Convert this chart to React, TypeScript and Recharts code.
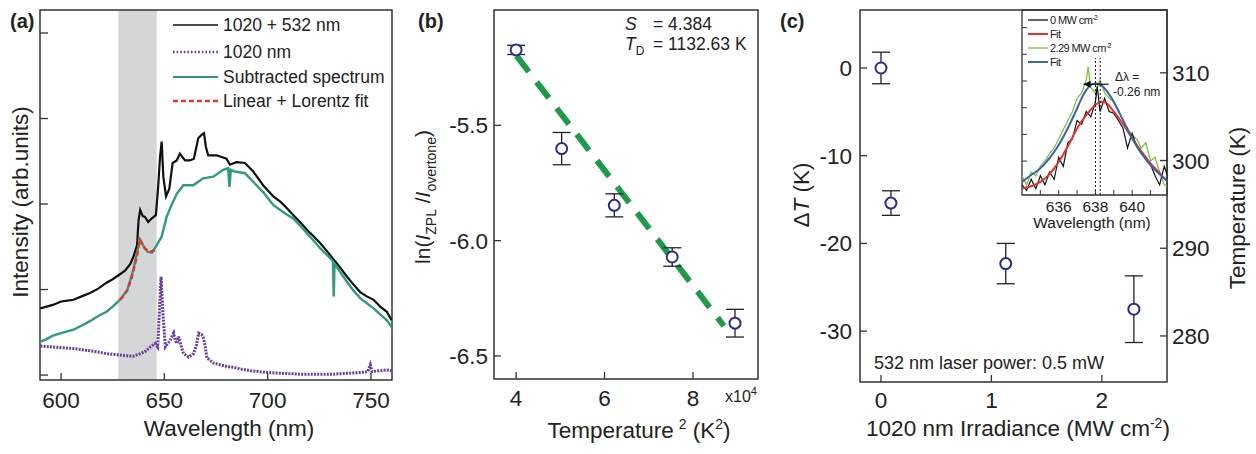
import {
    LineChart,
    ComposedChart,
    Line,
    Scatter,
    XAxis,
    YAxis,
    ReferenceArea,
    ErrorBar,
} from "recharts"

// ---- panel (a): PL spectra ----
const A_BLACK_WL = [590, 593, 596, 600, 603, 606, 610, 614, 618, 622, 625, 628, 631, 633.5, 635, 636.8, 637.5, 638.3, 639.5, 640.6, 642.2, 643.8, 645.9, 647.0, 647.9, 648.7, 649.5, 650.8, 652.4, 654.0, 656.0, 657.5, 660.0, 662.4, 664.3, 666.4, 668.0, 669.2, 670.1, 671.2, 675.3, 680.1, 681.7, 684.9, 689.0, 693.0, 697.8, 702.7, 706, 709, 712.5, 716, 719, 722, 725.5, 729, 732, 735, 738.4, 741.5, 744.8, 748, 751.3, 754.5, 757.7, 760]
const A_BLACK_I = [0.78, 0.80, 0.82, 0.86, 0.87, 0.88, 0.92, 0.96, 1.01, 1.08, 1.12, 1.17, 1.22, 1.30, 1.38, 1.52, 1.81, 1.93, 1.86, 1.85, 1.79, 1.83, 1.87, 2.20, 2.55, 2.73, 2.32, 2.09, 2.18, 2.48, 2.51, 2.59, 2.51, 2.51, 2.53, 2.77, 2.81, 2.83, 2.67, 2.57, 2.57, 2.53, 2.46, 2.49, 2.48, 2.38, 2.22, 2.09, 2.03, 1.96, 1.87, 1.78, 1.70, 1.63, 1.54, 1.44, 1.35, 1.26, 1.15, 1.06, 0.97, 0.92, 0.88, 0.80, 0.74, 0.64]

const A_TEAL_WL = [590, 593, 596, 600, 603, 606, 610, 614, 618, 622, 625, 628.5, 632, 635, 637, 638.3, 640, 642, 644, 646.3, 648.7, 651.1, 653.5, 656.0, 659.2, 664.0, 668.8, 673.7, 678.5, 680.9, 681.5, 682.2, 684.1, 689.0, 693.0, 697.8, 702.7, 706.1, 709, 712.5, 716, 719, 722, 725.5, 729, 731.6, 732.0, 732.4, 735, 738.4, 741.5, 744.8, 748, 751.3, 754.5, 757.7, 760]
const A_TEAL_I = [0.39, 0.42, 0.46, 0.49, 0.51, 0.53, 0.58, 0.63, 0.69, 0.74, 0.80, 0.88, 0.99, 1.23, 1.46, 1.58, 1.50, 1.44, 1.43, 1.52, 1.62, 1.85, 1.99, 2.12, 2.22, 2.22, 2.30, 2.32, 2.40, 2.42, 2.20, 2.40, 2.38, 2.36, 2.26, 2.14, 1.99, 1.93, 1.88, 1.83, 1.74, 1.66, 1.58, 1.48, 1.40, 1.33, 0.92, 1.30, 1.21, 1.09, 0.99, 0.90, 0.84, 0.78, 0.71, 0.64, 0.56]

const A_FIT_WL = [628.5, 630, 632, 634, 635.5, 636.6, 637.5, 638.2, 639, 640.6, 643.0, 645.4, 646.3]
const A_FIT_I = [0.88, 0.92, 0.99, 1.12, 1.27, 1.38, 1.50, 1.58, 1.55, 1.48, 1.44, 1.46, 1.47]

const A_PURPLE_WL = [590, 595, 600, 606, 612, 618, 622, 626, 630, 635, 638.4, 641, 643.2, 645.6, 646.8, 647.5, 648.4, 649.3, 650.5, 652.0, 652.9, 654.5, 655.3, 656.1, 656.9, 658.0, 659.3, 661.7, 664.2, 665.5, 666.6, 668.2, 669.0, 670.0, 670.6, 673.8, 677, 680.3, 683.5, 686.8, 692, 699.7, 707, 715.8, 724, 731.9, 738, 744.8, 748.5, 749.7, 750.5, 754, 757.7, 760]
const A_PURPLE_I = [0.34, 0.33, 0.32, 0.31, 0.29, 0.27, 0.25, 0.24, 0.23, 0.22, 0.25, 0.28, 0.33, 0.37, 0.33, 0.70, 1.15, 0.72, 0.33, 0.38, 0.41, 0.49, 0.40, 0.37, 0.45, 0.35, 0.25, 0.21, 0.25, 0.35, 0.49, 0.47, 0.43, 0.30, 0.20, 0.14, 0.12, 0.10, 0.09, 0.07, 0.05, 0.03, 0.02, 0.01, 0.01, 0.01, 0.02, 0.03, 0.04, 0.12, 0.04, 0.05, 0.06, 0.05]

const A_BAND = [627.7, 646.3]

// ---- panel (b): ln ratio vs T^2 ----
const B_T2 = [4.0, 5.03, 6.22, 7.53, 8.95]
const B_LN = [-5.173, -5.601, -5.847, -6.071, -6.358]
const B_ERR = [0.02, 0.07, 0.05, 0.04, 0.06]
const B_FIT_T2 = [4.01, 8.7]
const B_FIT_LN = [-5.199, -6.37]

// ---- panel (c): temperature change vs irradiance ----
const C_IRR = [0, 0.09, 1.13, 2.29]
const C_DT = [0, -15.4, -22.3, -27.5]
const C_ERR = [1.8, 1.4, 2.3, 3.8]

// ---- inset of (c): ZPL spectra ----
const IN_BLACK_WL = [634, 634.25, 634.5, 634.75, 635, 635.25, 635.5, 635.75, 636, 636.25, 636.5, 636.75, 637, 637.25, 637.5, 637.75, 638, 638.1, 638.25, 638.5, 638.75, 639, 639.25, 639.5, 639.75, 640, 640.25, 640.5, 640.75, 641, 641.25, 641.5, 641.75, 642]
const IN_BLACK = [0.11, -0.10, 0.32, -0.03, 0.45, 0.11, 0.59, 0.32, 1.14, 0.80, 1.69, 1.83, 2.52, 2.38, 2.86, 2.66, 3.21, 3.8, 2.86, 3.35, 2.86, 2.79, 2.52, 2.24, 1.49, 2.04, 1.56, 1.28, 1.14, 0.87, 0.45, 0.11, 0.80, 0.32]
const IN_RED_WL = [634, 634.5, 635, 635.5, 636, 636.5, 637, 637.5, 638, 638.3, 638.6, 639, 639.5, 640, 640.5, 641, 641.5, 642]
const IN_RED = [-0.02, 0.06, 0.22, 0.51, 0.97, 1.56, 2.22, 2.72, 3.10, 3.22, 3.17, 2.85, 2.39, 1.85, 1.37, 0.91, 0.55, 0.16]
const IN_GREEN_WL = [634, 634.25, 634.5, 634.75, 635, 635.25, 635.5, 635.75, 636, 636.25, 636.5, 636.75, 637, 637.25, 637.5, 637.6, 637.75, 638, 638.25, 638.5, 638.75, 639, 639.25, 639.5, 639.75, 640, 640.25, 640.5, 640.75, 641, 641.25, 641.5, 641.75, 642]
const IN_GREEN = [0.45, 0.11, 0.59, 0.45, 0.80, 1.00, 1.28, 1.49, 1.83, 2.18, 2.52, 2.86, 3.35, 3.55, 4.04, 4.52, 3.76, 3.55, 4.04, 3.55, 3.35, 3.21, 2.86, 2.52, 2.24, 1.97, 1.83, 1.49, 1.69, 1.00, 1.14, 0.59, 0.11, 0.04]
const IN_BLUE_WL = [634, 634.5, 635, 635.5, 636, 636.5, 637, 637.25, 637.5, 637.75, 638, 638.25, 638.5, 638.75, 639, 639.5, 640, 640.5, 641, 641.5, 642]
const IN_BLUE = [0.22, 0.48, 0.73, 1.11, 1.60, 2.24, 2.97, 3.36, 3.66, 3.85, 3.91, 3.88, 3.72, 3.50, 3.22, 2.54, 1.85, 1.30, 0.85, 0.51, 0.22]
const IN_PEAKS = [638.0, 638.26]
const IN_ARROW_WL = [638.72, 637.35]
const IN_ARROW_Y = 3.88

const FONT = '"Liberation Sans", Arial, Helvetica, sans-serif'
const INK = "#222"
const FRAME = "#333"
const NAVY = "#2a2d8f"

const zip = (xs: number[], ys: number[]) => xs.map((x, i) => ({ x, y: ys[i] }))
const zipErr = (xs: number[], ys: number[], es: number[]) =>
    xs.map((x, i) => ({ x, y: ys[i], e: es[i] }))

const tickStyle = (size: number) => ({ fill: INK, fontSize: size, fontFamily: FONT })
const noLabel = () => ""

function OpenCircle(props: any) {
    const { cx, cy } = props
    if (cx == null || cy == null) return <g />
    return <circle cx={cx} cy={cy} r={5.5} fill="#fff" stroke={NAVY} strokeWidth={2} />
}

function PanelA() {
    const xd: [number, number] = [589.8, 760.2]
    const yd: [number, number] = [-0.058, 4.269]
    return (
        <div style={{ position: "absolute", left: 0, top: 0 }}>
            <LineChart width={400} height={454} margin={{ top: 10, right: 8, bottom: 0, left: 0 }}>
                <XAxis dataKey="x" type="number" domain={xd} allowDataOverflow ticks={[600, 650, 700, 750]}
                    height={74} axisLine={false} tickSize={-7} tickMargin={19}
                    tickLine={{ stroke: FRAME, strokeWidth: 1.3 }} tick={tickStyle(22.5)} />
                <YAxis type="number" domain={yd} allowDataOverflow ticks={[0, 1, 2, 3, 4]} width={40}
                    axisLine={false} tickSize={-8} tickFormatter={noLabel}
                    tickLine={{ stroke: FRAME, strokeWidth: 1.3 }} />
                <ReferenceArea x1={A_BAND[0]} x2={A_BAND[1]} y1={yd[0]} y2={yd[1]}
                    fill="#d5d6d8" fillOpacity={1} stroke="none" />
                <Line data={zip(A_PURPLE_WL, A_PURPLE_I)} dataKey="y" type="linear" stroke="#6a3d9e"
                    strokeWidth={3} strokeDasharray="2 1.2" dot={false} isAnimationActive={false} />
                <Line data={zip(A_BLACK_WL, A_BLACK_I)} dataKey="y" type="linear" stroke="#111"
                    strokeWidth={2.2} dot={false} isAnimationActive={false} />
                <Line data={zip(A_TEAL_WL, A_TEAL_I)} dataKey="y" type="linear" stroke="#2e9b80"
                    strokeWidth={2.4} dot={false} isAnimationActive={false} />
                <Line data={zip(A_FIT_WL, A_FIT_I)} dataKey="y" type="linear" stroke="#e2382e"
                    strokeWidth={2.6} strokeDasharray="5 3" dot={false} isAnimationActive={false} />
                <ReferenceArea x1={xd[0]} x2={xd[1]} y1={yd[0]} y2={yd[1]} fill="none"
                    stroke={FRAME} strokeWidth={1.5} />
                <g fontFamily={FONT} fill={INK}>
                    <text x={10} y={28} fontSize={20} fontWeight="bold">(a)</text>
                    <g fontSize={17.5}>
                        <line x1={173} x2={218} y1={25} y2={25} stroke="#111" strokeWidth={1.6} />
                        <text x={223} y={31}>1020 + 532 nm</text>
                        <line x1={173} x2={218} y1={52} y2={52} stroke="#6a3d9e" strokeWidth={2.4} strokeDasharray="1.6 2" />
                        <text x={223} y={58}>1020 nm</text>
                        <line x1={173} x2={218} y1={77} y2={77} stroke="#2e9b80" strokeWidth={1.8} />
                        <text x={223} y={83}>Subtracted spectrum</text>
                        <line x1={173} x2={218} y1={101} y2={101} stroke="#e2382e" strokeWidth={2.4} strokeDasharray="5 3" />
                        <text x={223} y={107}>Linear + Lorentz fit</text>
                    </g>
                    <text x={229} y={436} fontSize={22.5} textAnchor="middle">Wavelength (nm)</text>
                    <text x={28} y={202} fontSize={22.5} textAnchor="middle" transform="rotate(-90 28 202)">
                        Intensity (arb.units)
                    </text>
                </g>
            </LineChart>
        </div>
    )
}

function PanelB() {
    const xd: [number, number] = [3.5, 9.47]
    const yd: [number, number] = [-6.6, -5.0]
    return (
        <div style={{ position: "absolute", left: 400, top: 0 }}>
            <ComposedChart width={370} height={454} margin={{ top: 10, right: 12, bottom: 0, left: 0 }}>
                <XAxis dataKey="x" type="number" domain={xd} allowDataOverflow ticks={[4, 6, 8]}
                    height={75} axisLine={false} tickSize={-7} tickMargin={18}
                    tickLine={{ stroke: FRAME, strokeWidth: 1.3 }} tick={tickStyle(22.5)} />
                <YAxis type="number" domain={yd} allowDataOverflow ticks={[-5.5, -6, -6.5]} width={94}
                    axisLine={false} tickSize={-7} tickMargin={13} tickFormatter={(v: number) => v.toFixed(1)}
                    tickLine={{ stroke: FRAME, strokeWidth: 1.3 }} tick={tickStyle(22.5)} />
                <Line data={zip(B_FIT_T2, B_FIT_LN)} dataKey="y" type="linear" stroke="#1e9a48"
                    strokeWidth={6} strokeDasharray="20 13" dot={false} isAnimationActive={false} />
                <Scatter data={zipErr(B_T2, B_LN, B_ERR)} dataKey="y" shape={<OpenCircle />}
                    isAnimationActive={false}>
                    <ErrorBar dataKey="e" direction="y" width={9} stroke="#222" strokeWidth={1.3} />
                </Scatter>
                <ReferenceArea x1={xd[0]} x2={xd[1]} y1={yd[0]} y2={yd[1]} fill="none"
                    stroke={FRAME} strokeWidth={1.5} />
                <g fontFamily={FONT} fill={INK}>
                    <text x={18} y={28} fontSize={20} fontWeight="bold">(b)</text>
                    <g fontSize={17.5}>
                        <text x={225} y={30} fontStyle="italic">S</text>
                        <text x={253} y={30}>= 4.384</text>
                        <text x={225} y={50}><tspan fontStyle="italic">T</tspan><tspan dy={5} fontSize={12}>D</tspan></text>
                        <text x={253} y={50}>= 1132.63 K</text>
                    </g>
                    <text x={325} y={402} fontSize={16}>x10<tspan dy={-7} fontSize={11}>4</tspan></text>
                    <text x={239} y={438} fontSize={22.5} textAnchor="middle">
                        Temperature<tspan dx={5} dy={-9} fontSize={14}>2</tspan>
                        <tspan dy={9}> (K</tspan><tspan dy={-9} fontSize={14}>2</tspan><tspan dy={9}>)</tspan>
                    </text>
                    <text x={30} y={197} fontSize={21} textAnchor="middle" transform="rotate(-90 30 197)">
                        ln(<tspan fontStyle="italic">I</tspan><tspan dy={6} fontSize={14}>ZPL</tspan>
                        <tspan dy={-6}> /</tspan><tspan fontStyle="italic">I</tspan>
                        <tspan dy={6} fontSize={14}>overtone</tspan><tspan dy={-6}>)</tspan>
                    </text>
                </g>
            </ComposedChart>
        </div>
    )
}

function PanelC() {
    const xd: [number, number] = [-0.19, 2.59]
    const yl: [number, number] = [-35.8, 6.61]
    const yr: [number, number] = [274.75, 317.16]
    return (
        <div style={{ position: "absolute", left: 770, top: 0 }}>
            <ComposedChart width={486} height={454} margin={{ top: 10, right: 0, bottom: 0, left: 0 }}>
                <XAxis dataKey="x" type="number" domain={xd} allowDataOverflow ticks={[0, 1, 2]}
                    height={72} axisLine={false} tickSize={-7} tickMargin={17}
                    tickLine={{ stroke: FRAME, strokeWidth: 1.3 }} tick={tickStyle(22.5)} />
                <YAxis yAxisId="l" type="number" domain={yl} allowDataOverflow ticks={[0, -10, -20, -30]}
                    width={90} axisLine={false} tickSize={-7} tickMargin={15}
                    tickLine={{ stroke: FRAME, strokeWidth: 1.3 }} tick={tickStyle(22.5)} />
                <YAxis yAxisId="r" orientation="right" type="number" domain={yr} allowDataOverflow
                    ticks={[280, 290, 300, 310]} width={89} axisLine={false} tickSize={-7} tickMargin={12}
                    tickLine={{ stroke: FRAME, strokeWidth: 1.3 }} tick={tickStyle(22.5)} />
                <Scatter yAxisId="l" data={zipErr(C_IRR, C_DT, C_ERR)} dataKey="y" shape={<OpenCircle />}
                    isAnimationActive={false}>
                    <ErrorBar dataKey="e" direction="y" width={9} stroke="#222" strokeWidth={1.3} />
                </Scatter>
                <ReferenceArea yAxisId="l" x1={xd[0]} x2={xd[1]} y1={yl[0]} y2={yl[1]} fill="none"
                    stroke={FRAME} strokeWidth={1.5} />
                <g fontFamily={FONT} fill={INK}>
                    <text x={10} y={28} fontSize={20} fontWeight="bold">(c)</text>
                    <text x={104} y={369} fontSize={18}>532 nm laser power: 0.5 mW</text>
                    <text x={248} y={436} fontSize={22.5} textAnchor="middle">
                        1020 nm Irradiance (MW cm<tspan dy={-8} fontSize={14}>-2</tspan><tspan dy={8}>)</tspan>
                    </text>
                    <text x={39} y={195} fontSize={22.5} textAnchor="middle" transform="rotate(-90 39 195)">
                        Δ<tspan fontStyle="italic">T</tspan> (K)
                    </text>
                    <text x={475} y={208} fontSize={22.5} textAnchor="middle" transform="rotate(-90 475 208)">
                        Temperature (K)
                    </text>
                </g>
            </ComposedChart>
        </div>
    )
}

function Inset() {
    const xd: [number, number] = [634.0, 641.9]
    const yd: [number, number] = [-0.27, 6.66]
    const arrowHead = (p: any) => {
        if (p.index !== 1) return <g key={p.key} />
        const { cx, cy } = p
        return <polygon key={p.key} points={`${cx},${cy} ${cx + 7},${cy - 3.5} ${cx + 7},${cy + 3.5}`} fill="#111" />
    }
    return (
        <div style={{ position: "absolute", left: 1000, top: 0 }}>
            <LineChart width={170} height={240} margin={{ top: 10, right: 3, bottom: 0, left: 0 }}>
                <XAxis dataKey="x" type="number" domain={xd} allowDataOverflow
                    ticks={[635, 636, 637, 638, 639, 640, 641]}
                    tickFormatter={(v: number) => (v % 2 === 0 ? String(v) : "")}
                    height={45} axisLine={false} tickSize={-5} tickMargin={11}
                    tickLine={{ stroke: FRAME, strokeWidth: 1 }} tick={tickStyle(15.5)} />
                <YAxis type="number" domain={yd} allowDataOverflow ticks={[1, 2, 3, 4, 5, 6]} width={22}
                    axisLine={false} tickSize={-5} tickFormatter={noLabel}
                    tickLine={{ stroke: FRAME, strokeWidth: 1 }} />
                <Line data={zip(IN_GREEN_WL, IN_GREEN)} dataKey="y" type="linear" stroke="#7cc242"
                    strokeWidth={1.3} dot={false} isAnimationActive={false} />
                <Line data={zip(IN_BLACK_WL, IN_BLACK)} dataKey="y" type="linear" stroke="#111"
                    strokeWidth={1.2} dot={false} isAnimationActive={false} />
                <Line data={zip(IN_RED_WL, IN_RED)} dataKey="y" type="monotone" stroke="#e8312a"
                    strokeWidth={2} dot={false} isAnimationActive={false} />
                <Line data={zip(IN_BLUE_WL, IN_BLUE)} dataKey="y" type="monotone" stroke="#3d63ad"
                    strokeWidth={2} dot={false} isAnimationActive={false} />
                {IN_PEAKS.map((p) => (
                    <Line key={p} data={[{ x: p, y: yd[0] }, { x: p, y: 4.86 }]} dataKey="y" type="linear"
                        stroke="#111" strokeWidth={1} strokeDasharray="2 2" dot={false} isAnimationActive={false} />
                ))}
                <Line data={zip(IN_ARROW_WL, [IN_ARROW_Y, IN_ARROW_Y])} dataKey="y" type="linear"
                    stroke="#111" strokeWidth={1.2} dot={arrowHead} isAnimationActive={false} />
                <ReferenceArea x1={xd[0]} x2={xd[1]} y1={yd[0]} y2={yd[1]} fill="none"
                    stroke={FRAME} strokeWidth={1.3} />
                <g fontFamily={FONT} fill={INK}>
                    <g fontSize={11} letterSpacing={-0.6}>
                        <line x1={28} x2={48} y1={20} y2={20} stroke="#111" strokeWidth={1.3} />
                        <text x={50} y={24}>0 MW cm<tspan dy={-4} fontSize={7}>-2</tspan></text>
                        <line x1={28} x2={48} y1={34} y2={34} stroke="#e8312a" strokeWidth={2} />
                        <text x={50} y={38}>Fit</text>
                        <line x1={28} x2={48} y1={48} y2={48} stroke="#7cc242" strokeWidth={1.3} />
                        <text x={50} y={52}>2.29 MW cm<tspan dy={-4} fontSize={7}>-2</tspan></text>
                        <line x1={28} x2={48} y1={62} y2={62} stroke="#3d63ad" strokeWidth={2} />
                        <text x={50} y={66}>Fit</text>
                    </g>
                    <g fontSize={12}>
                        <text x={115} y={81}>Δλ =</text>
                        <text x={113} y={96}>-0.26 nm</text>
                    </g>
                    <text x={92} y={228} fontSize={15.5} textAnchor="middle">Wavelength (nm)</text>
                </g>
            </LineChart>
        </div>
    )
}

export default function App() {
    return (
        <div style={{ position: "absolute", left: 0, top: 0, width: 1256, height: 454, background: "#fff", overflow: "hidden" }}>
            <PanelA />
            <PanelB />
            <PanelC />
            <Inset />
        </div>
    )
}
